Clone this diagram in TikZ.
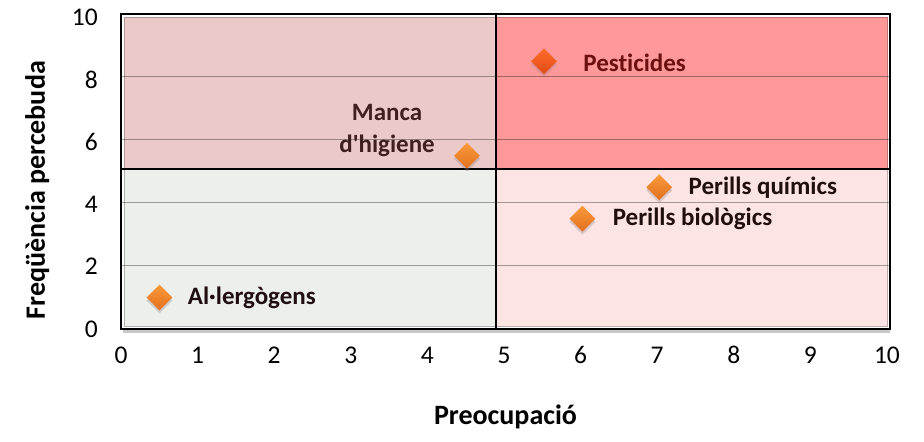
\documentclass[tikz,border=0pt]{standalone}
\usepackage{fontspec}
\setmainfont{Carlito}[Ligatures={NoCommon}]
\usetikzlibrary{positioning,shapes.geometric,shadows}

\definecolor{tlfill}{HTML}{EBC9C9}
\definecolor{trfill}{HTML}{FF9999}
\definecolor{blfill}{HTML}{EDEFEB}
\definecolor{brfill}{HTML}{FDE4E4}
\definecolor{orngtop}{HTML}{F99A3A}
\definecolor{orngbot}{HTML}{E2701E}
\definecolor{redtop}{HTML}{FF6A2A}
\definecolor{redbot}{HTML}{E24C16}
\definecolor{pestred}{HTML}{6B1010}
\definecolor{mancabr}{HTML}{40201F}
\definecolor{lbldark}{HTML}{200F0F}

\begin{document}
\begin{tikzpicture}[x=76.9pt, y=31.5pt,
    hazard/.style={diamond, minimum size=26pt, inner sep=0pt,
        top color=orngtop, bottom color=orngbot,
        drop shadow={opacity=0.3, shadow xshift=0pt, shadow yshift=-3pt}},
    hazardred/.style={hazard, top color=redtop, bottom color=redbot},
    lbl/.style={font=\fontsize{25}{32}\selectfont\bfseries, inner sep=0pt, text=lbldark},
    ticklbl/.style={font=\fontsize{25.5}{28}\selectfont, inner sep=0pt},
    ttl/.style={font=\fontsize{28}{32}\selectfont\bfseries, inner sep=0pt}]
\useasboundingbox (-1.5735,-3.587) rectangle (10.442,10.444);

% shadow under the plot
\fill[black!22] (0.03,-0.12) rectangle (10,0);

% quadrants
\filldraw[fill=tlfill, draw=tlfill!75!black, line width=0.6pt] (0.04,5.08) rectangle (4.88,9.9);
\filldraw[fill=trfill, draw=trfill!75!black, line width=0.6pt] (4.88,5.08) rectangle (9.96,9.9);
\filldraw[fill=blfill, draw=blfill!75!black, line width=0.6pt] (0.04,0.1) rectangle (4.88,5.08);
\filldraw[fill=brfill, draw=brfill!75!black, line width=0.6pt] (4.88,0.1) rectangle (9.96,5.08);

% grid
\foreach \y in {2,4,6,8}
    \draw[black, opacity=0.35, line width=1pt] (0,\y) -- (10,\y);

\draw[line width=1.6pt] (0,0) rectangle (10,10);
\draw[line width=1.6pt] (4.88,0) -- (4.88,10);
\draw[line width=1.6pt] (0,5.08) -- (10,5.08);

% axes
\foreach \i in {0,...,10}
    \node[ticklbl] (x\i) at (\i*0.996,-0.83) {\i};
\foreach \i in {0,2,...,10}
    \node[ticklbl, anchor=east] (y\i) at (-0.3,\i*0.99) {\i};
\node[ttl, rotate=90] (ytitle) at (-1.09,4.41) {Freqüència percebuda};
\node[ttl] (xtitle) at (5.0,-2.8) {Preocupació};

% points
\node[hazardred] (pest) at (5.5,8.5) {};
\node[hazard] (higiene) at (4.5,5.5) {};
\node[hazard] (quim) at (7,4.5) {};
\node[hazard] (biol) at (6,3.5) {};
\node[hazard] (alerg) at (0.5,1) {};

\node[lbl, text=pestred, right=26pt of pest, yshift=-2pt] (pestl) {Pesticides};
\node[lbl, text=mancabr, align=center] (higienel) at (3.46,6.29) {Manca\\d\textquotesingle higiene};
\node[lbl, right=16pt of quim] (quiml) {Perills químics};
\node[lbl, right=17pt of biol] (bioll) {Perills biològics};
\node[lbl, right=15pt of alerg] (alergl) {Al·lergògens};
\end{tikzpicture}
\end{document}
